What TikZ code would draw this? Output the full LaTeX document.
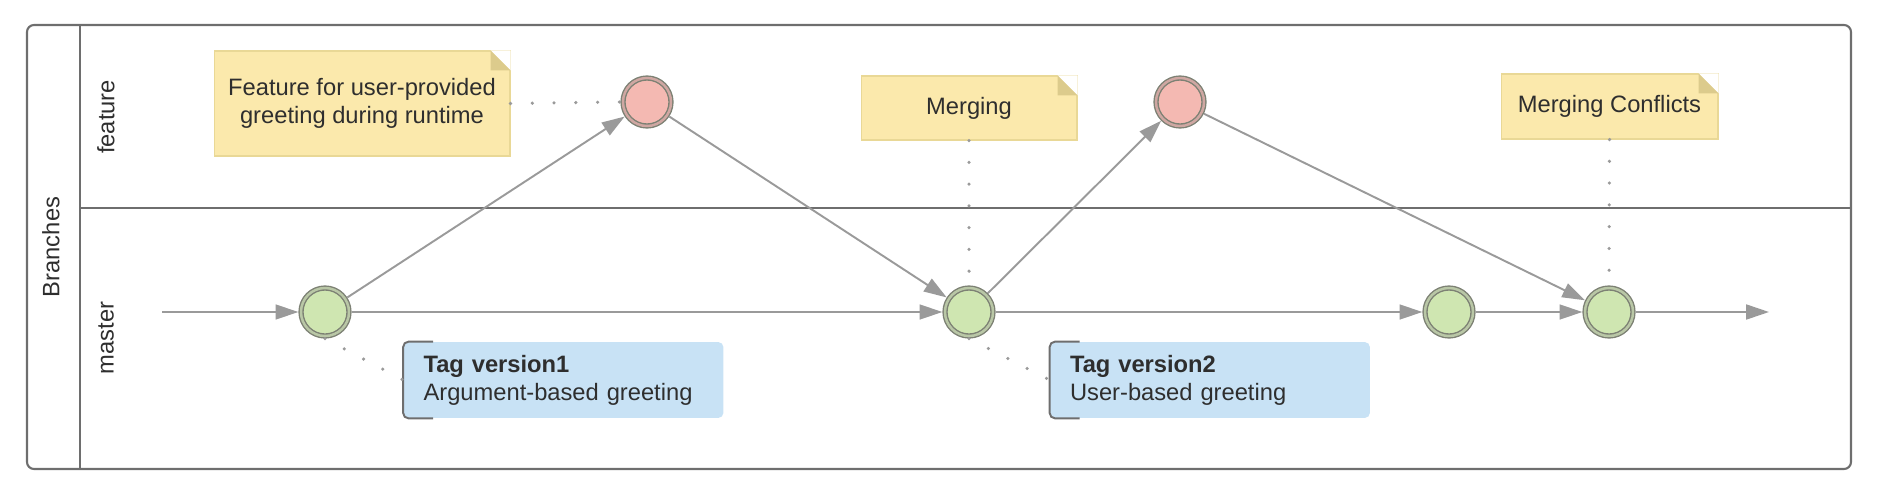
\documentclass[tikz,border=0pt]{standalone}
\usepackage{fontspec}
\setmainfont{Liberation Sans}
\usetikzlibrary{arrows.meta}

\definecolor{framegray}{HTML}{6E6E6E}
\definecolor{edgegray}{HTML}{9A9A9A}
\definecolor{ringgray}{HTML}{7D8174}
\definecolor{commitgreen}{HTML}{CFE6B1}
\definecolor{commitpink}{HTML}{F4B9B2}
\definecolor{ringgreen}{HTML}{B9C7A6}
\definecolor{ringpink}{HTML}{CFA7A2}
\definecolor{noteyellow}{HTML}{FBE9AC}
\definecolor{noteborder}{HTML}{E9D896}
\definecolor{notefold}{HTML}{DCCB8C}
\definecolor{tagblue}{HTML}{C8E2F5}
\definecolor{textgray}{HTML}{2E2E2E}

\tikzset{
    txt/.style={font=\fontsize{13.5}{16}\selectfont, text=textgray},
    commit/.style={circle, minimum size=0.96cm, inner sep=0pt, outer sep=1.5pt,
        draw=ringgray, line width=0.8pt, double distance=1.4pt},
    mastercommit/.style={commit, fill=commitgreen, double=ringgreen},
    featurecommit/.style={commit, fill=commitpink, double=ringpink},
    note/.style={txt, rectangle, fill=noteyellow, draw=noteborder, line width=0.6pt, align=center},
    tagbox/.style={txt, rectangle, fill=tagblue, rounded corners=3pt, inner xsep=0.4cm,
        text width=5.6cm, minimum height=1.52cm, align=left},
    flow/.style={edgegray, line width=1.1pt, -{Triangle[length=13pt, width=8.5pt]}},
    dots/.style={edgegray, line width=2pt, line cap=round, dash pattern=on 0pt off 12.4pt},
}

\begin{document}
\begin{tikzpicture}[x=0.02cm, y=-0.02cm]
    \useasboundingbox (0, 0) rectangle (1880, 494);

    % Lanes
    \draw[framegray, line width=1.2pt, rounded corners=4pt] (27, 25) rectangle (1851, 469);
    \draw[framegray, line width=1.2pt] (80, 25) -- (80, 469);
    \draw[framegray, line width=1.2pt] (80, 208) -- (1851, 208);

    \node[txt, rotate=90] at (51, 247)  (branches) {Branches};
    \node[txt, rotate=90] at (106, 117) (feature)  {feature};
    \node[txt, rotate=90] at (106, 338) (master)   {master};

    % Commits
    % master: g1 .. g4, feature: p1, p2
    \node[mastercommit]  at (325, 312)  (g1) {};
    \node[mastercommit]  at (969, 312)  (g2) {};
    \node[mastercommit]  at (1449, 312) (g3) {};
    \node[mastercommit]  at (1609, 312) (g4) {};
    \node[featurecommit] at (647, 102)  (p1) {};
    \node[featurecommit] at (1180, 102) (p2) {};

    \coordinate (start) at (162, 312);
    \coordinate (tail)  at (1769, 312);

    % Notes
    \node[note, minimum width=5.92cm, minimum height=2.1cm] at (362, 103.5) (featurenote) {Feature for user-provided\\greeting during runtime};
    \node[note, minimum width=4.32cm, minimum height=1.28cm] at (969, 108)   (mergenote)   {Merging};
    \node[note, minimum width=4.34cm, minimum height=1.3cm]  at (1609.5, 106.5) (conflictnote) {Merging Conflicts};

    \foreach \n in {featurenote, mergenote, conflictnote} {
        \fill[white] ([xshift=-0.4cm]\n.north east) -- ([xshift=0.1pt, yshift=0.1pt]\n.north east) -- ([yshift=-0.4cm]\n.north east) -- cycle;
        \fill[notefold] ([xshift=-0.4cm]\n.north east) -- ([shift={(-0.4cm,-0.4cm)}]\n.north east) -- ([yshift=-0.4cm]\n.north east) -- cycle;
    }

    % Tags
    \node[tagbox] at (563.5, 380) (tag1) {\textbf{Tag version1}\\Argument-based greeting};
    \node[tagbox] at (1210, 380)  (tag2) {\textbf{Tag version2}\\User-based greeting};

    \foreach \t in {tag1, tag2} {
        \draw[framegray, line width=1.1pt, rounded corners=3pt] ([xshift=0.6cm]\t.north west) -| (\t.south west) -- ++(30, 0);
    }

    % History
    \draw[flow] (start) -- (g1);
    \draw[flow] (g1) -- (g2);
    \draw[flow] (g2) -- (g3);
    \draw[flow] (g3) -- (g4);
    \draw[flow] (g4) -- (tail);
    \draw[flow] (g1) -- (p1);
    \draw[flow] (p1) -- (g2);
    \draw[flow] (g2) -- (p2);
    \draw[flow] (p2) -- (g4);

    % Annotations
    \draw[dots] (featurenote.east) -- (p1.west);
    \draw[dots] (mergenote.south) -- (g2.north);
    \draw[dots] (conflictnote.south) -- (g4.north);
    \draw[dots] (g1.south) -- (tag1.west);
    \draw[dots] (g2.south) -- (tag2.west);

\end{tikzpicture}
\end{document}
